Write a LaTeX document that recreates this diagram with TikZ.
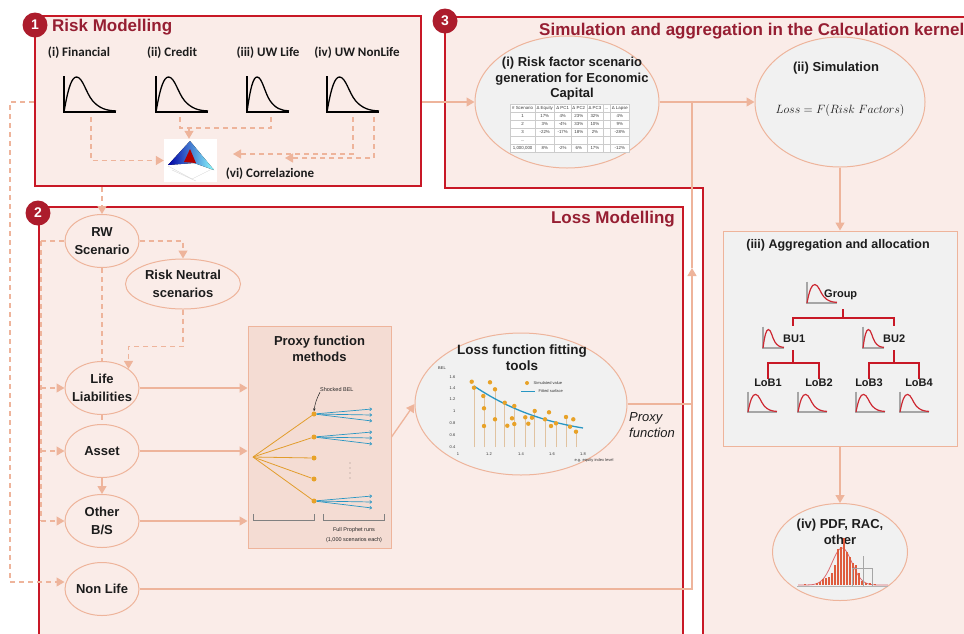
\documentclass[tikz,border=0pt]{standalone}
\usepackage{fontspec}
\usepackage{colortbl}
\setmainfont{Liberation Sans}
\newfontfamily\calib{Carlito}
\usetikzlibrary{arrows.meta,shapes,positioning}
\definecolor{boxred}{RGB}{200,24,38}
\definecolor{badgered}{RGB}{172,28,44}
\definecolor{titlered}{RGB}{150,30,50}
\definecolor{salmon}{RGB}{238,180,155}
\definecolor{pinkfill}{RGB}{250,236,232}
\definecolor{proxyfill}{RGB}{244,220,211}
\definecolor{grayfill}{RGB}{241,241,241}
\definecolor{txtgray}{RGB}{28,28,28}
\definecolor{dotorange}{RGB}{232,162,40}
\definecolor{stemtan}{RGB}{225,195,160}
\definecolor{bluefit}{RGB}{40,150,195}
\definecolor{curvered}{RGB}{205,40,50}
\definecolor{barred}{RGB}{222,92,62}
\newcommand{\lw}{1.3pt}
\newcommand{\redw}{2.8pt}

\tikzset{
	ell/.style={ellipse, draw=salmon, line width=1pt, fill=pinkfill, minimum width=74pt, minimum height=53pt, inner xsep=-8pt, inner ysep=-4pt, align=center, text=txtgray, font=\bfseries\fontsize{13}{17.5}\selectfont},
	grayell/.style={ellipse, draw=salmon, line width=1pt, fill=grayfill, inner sep=0pt},
	panel/.style={draw=salmon, line width=1pt, inner sep=0pt},
	redbox/.style={draw=boxred, line width=\redw, fill=pinkfill},
	flow/.style={draw=salmon, line width=\lw, -{Triangle[width=9pt,length=8pt]}},
	dflow/.style={flow, dash pattern=on 5pt off 4pt},
	dline/.style={draw=salmon, line width=\lw, dash pattern=on 5pt off 4pt},
	sline/.style={draw=salmon, line width=\lw},
	badge/.style={circle, fill=badgered, text=white, minimum size=25pt, inner sep=0pt, font=\bfseries\fontsize{14}{14}\selectfont},
	boxtitle/.style={text=titlered, inner sep=0pt, font=\bfseries\fontsize{17}{19}\selectfont},
	risklabel/.style={text=txtgray, inner sep=0pt, font=\calib\bfseries\fontsize{13}{15}\selectfont},
	eltext/.style={text=txtgray, inner sep=0pt, align=center, font=\bfseries\fontsize{13}{15.5}\selectfont},
	treelbl/.style={text=txtgray, inner sep=0pt, font=\bfseries\fontsize{11}{13}\selectfont},
	treeline/.style={draw=boxred, line width=1.3pt},
	ticklbl/.style={text=gray!40!black, inner sep=0.5pt, font=\fontsize{4}{5}\selectfont},
	smalllbl/.style={text=gray!30!black, inner sep=0pt, align=center, font=\fontsize{5.5}{10}\selectfont},
	pdot/.style={circle, fill=dotorange, inner sep=0pt, minimum size=5pt},
	orangeline/.style={draw=dotorange!85!brown, line width=0.8pt},
	bluearrow/.style={draw=bluefit, line width=0.7pt, -{To[length=2.5pt,width=3.5pt]}},
	riskpdf/.pic={
		\draw[line width=1.5pt, black] (0,-1.02) -- (0,0) -- (1,0);
		\draw[line width=1.3pt, black] (0,0) .. controls (0.08,-0.7) and (0.15,-1) .. (0.24,-1) .. controls (0.36,-1) and (0.42,-0.55) .. (0.55,-0.32) .. controls (0.68,-0.1) and (0.82,-0.04) .. (1,-0.03);
	},
	aggpdf/.pic={
		\draw[line width=1.1pt, gray!70] (0,-1.02) -- (0,0) -- (1,0);
		\draw[line width=1.2pt, curvered] (0,0) .. controls (0.08,-0.6) and (0.15,-0.88) .. (0.26,-0.88) .. controls (0.38,-0.88) and (0.44,-0.5) .. (0.56,-0.3) .. controls (0.68,-0.1) and (0.82,-0.04) .. (1,-0.03);
	}
}

\begin{document}
\begin{tikzpicture}[x=1pt,y=-1pt]
	\useasboundingbox (0,0) rectangle (964,633);
	%\draw[help lines,step=50] (0,0) grid (964,633);

	% the three panels
	\path[redbox] (445,17) -- (985,17) -- (985,650) -- (703,650) -- (703,188) -- (445,188) -- cycle;
	\path[redbox] (39,207) rectangle (683,650);
	\node[redbox, minimum width=386pt, minimum height=170pt, inner sep=0pt] (riskbox) at (228,101) {};
	\node[boxtitle, anchor=west] (risktitle) at (52,27) {Risk Modelling};
	\node[boxtitle, anchor=east] (losstitle) at (675,219) {Loss Modelling};
	\node[boxtitle, anchor=west] (simtitle) at (539,31) {Simulation and aggregation in the Calculation kernel};

	% 1: risk modelling
	\node[risklabel] (fin) at (79,53) {(i) Financial};
	\node[risklabel] (cred) at (172,53) {(ii) Credit};
	\node[risklabel] (uwl) at (268,53) {(iii) UW Life};
	\node[risklabel] (uwnl) at (357,53) {(iv) UW NonLife};
	\pic[xscale=52,yscale=35] at (64,112) {riskpdf};
	\pic[xscale=52,yscale=35] at (156,112) {riskpdf};
	\pic[xscale=42,yscale=35] at (247,112) {riskpdf};
	\pic[xscale=52,yscale=35] at (327,112) {riskpdf};
	\node[fill=white, minimum width=53pt, minimum height=43pt, inner sep=0pt] (corr) at (190.5,160.5) {};
	\draw[gray!30, line width=0.4pt] (168,166) -- (192,179) -- (214,168);
	\draw[gray!30, line width=0.4pt] (172,170) -- (196,181);
	\fill[left color=blue!65!black, right color=cyan!45] (168,165) -- (190,141) -- (214,170) -- (194,163) -- cycle;
	\fill[red!70!black] (184,162) -- (190,149) -- (196,163) -- cycle;
	\node[risklabel] (corrlbl) at (270,174) {(vi) Correlazione};
	\coordinate (finb) at (91,117);
	\coordinate (credb) at (180,117);
	\coordinate (uwlb) at (271,117);
	\coordinate (nla) at (353,117);
	\coordinate (nlb) at (374,117);
	\coordinate (cj) at (189,128);
	\coordinate (nltip) at (233,154);
	\coordinate (nltip2) at (285,158);
	\draw[dflow] (finb) |- (corr.west);
	\draw[dline] (credb) -- ++(0,11) -| (uwlb);
	\draw[dflow] (cj) -- (cj |- corr.north);
	\draw[dflow] (nla) |- (nltip);
	\draw[dflow] (nlb) |- (nltip2);

	% 2: loss modelling
	\node[ell] (rw) at (102,241) {RW\\Scenario};
	\node[ell, minimum width=115pt, minimum height=50pt] (rn) at (183,284) {Risk Neutral\\scenarios};
	\node[ell] (life) at (102,388) {Life\\Liabilities};
	\node[ell] (asset) at (102,451) {Asset};
	\node[ell] (other) at (102,521) {Other\\B/S};
	\node[ell] (nonlife) at (102,589) {Non Life};
	\coordinate (oleft) at (10,102);
	\coordinate (ileft) at (41,241);
	\draw[dflow] (riskbox.west |- oleft) -- (oleft) |- ([yshift=7pt]nonlife.west);
	\draw[dline] (ileft) -- (rw.west);
	\draw[dline] (ileft) -- (ileft |- other.west);
	\draw[dflow] (ileft |- life.west) -- (life.west);
	\draw[dflow] (ileft |- asset.west) -- (asset.west);
	\draw[dflow] (ileft |- other.west) -- (other.west);
	\draw[dflow] (riskbox.south -| rw.north) -- (rw.north);
	\draw[dflow] (rw.east) -| (rn.north);
	\draw[dflow] (rn.south) -- ++(0,37) -| (life.north east);
	\draw[dline] (rw.south) -- (life.north);
	\draw[dline] (life.south) -- (asset.north);
	\draw[flow] (asset.south) -- (other.north);

	\node[panel, fill=proxyfill, minimum width=143pt, minimum height=222pt] (proxy) at (319.5,437) {};
	\node[eltext] (proxytitle) at (319.5,349) {Proxy function\\methods};
	\draw[flow] (life.east) -- (life.east -| proxy.west);
	\draw[flow] (asset.east) -- (asset.east -| proxy.west);
	\draw[flow] (other.east) -- (other.east -| proxy.west);
	\coordinate (root) at (253,457);
	\foreach \n/\yy in {1/414,2/437,3/458,4/479,5/501}
		\node[pdot] (d\n) at (314,\yy) {};
	\foreach \n in {1,...,5}
		\draw[orangeline] (root) -- (d\n);
	\foreach \n in {1,2,5}
		\foreach \dy in {-5,1,7}
			\draw[bluearrow] (d\n) -- ++(58,\dy);
	\node[smalllbl, anchor=west] (bel) at (320,390) {Shocked BEL};
	\draw[gray!30!black, line width=0.5pt, -{Stealth[length=3pt,width=2.5pt]}] (bel.south west) to[bend right=10] (d1.north);
	\foreach \yy in {463,468,473,478}
		\fill[black] (350,\yy) circle (0.45pt);
	\draw[gray, line width=0.8pt] (253,514) -- (253,520) -- (314,520) -- (314,514);
	\draw[gray, line width=0.8pt] (323,514) -- (323,520) -- (384,520) -- (384,514);
	\node[smalllbl] (runs) at (354,535) {Full Prophet runs\\(1,000 scenarios each)};

	\node[grayell, minimum width=212pt, minimum height=142pt] (loss) at (521,404) {};
	\node[eltext, font=\bfseries\fontsize{13.5}{16}\selectfont] (losslbl) at (522,358) {Loss function fitting\\tools};
	\draw[flow] (proxy.east) -- (loss.west);
	\node[ticklbl] (bellbl) at (442,368) {BEL};
	\foreach \yv/\yy in {1.6/377,1.4/388,1.2/399,1/411,0.8/423,0.6/435,0.4/447}
		\node[ticklbl, anchor=east] at (456,\yy) {\yv};
	\foreach \xv/\xx in {1/458,1.2/489,1.4/521,1.6/552,1.8/583}
		\node[ticklbl] at (\xx,454) {\xv};
	\node[ticklbl] (xlbl) at (594,460) {e.g. equity index level};
	\foreach \sx/\sy in {474/387.7,484/396,495/389.3,504.7/402.7,514.3/406,525.3/417.3,534.7/411,545/419.3,556/423.3,566/417,576/431.7}
		\draw[stemtan, line width=0.9pt] (\sx,447) -- (\sx,\sy);
	\draw[bluefit, line width=1.3pt] (474,386) .. controls (505,407) and (540,421) .. (583,428);
	\foreach \px/\py in {471.7/381.7,474/387.7,483.3/396,484/408.3,484/426,490/382.3,495/389.3,495/419.3,504.7/402.7,507.3/425.7,512/418.3,514.3/406,514.3/424,525.3/417.3,528.3/423.7,532/417.7,534.7/411,545/419.3,549/412.3,551/426,556/423.3,566/417,570/426.7,573.3/419.3,576/431.7}
		\fill[dotorange] (\px,\py) circle (2.2pt);
	\fill[dotorange] (527,383) circle (2pt);
	\node[ticklbl, anchor=west] (simval) at (533,383) {Simulated value};
	\draw[bluefit, line width=1pt] (521,391) -- (535,391);
	\node[ticklbl, anchor=west] (fitsurf) at (538,391) {Fitted surface};
	\node[text=txtgray, align=left, inner sep=0pt, font=\itshape\fontsize{13}{16}\selectfont] (pxlbl) at (652,425) {Proxy\\function};

	% 3: simulation and aggregation
	\node[grayell, minimum width=184pt, minimum height=132pt] (scen) at (567,102) {};
	\node[eltext] (scenlbl) at (572,79) {(i) Risk factor scenario\\generation for Economic\\Capital};
	\node[fill=white, inner sep=0pt, text=gray!50!black, font=\fontsize{4.4}{7.6}\selectfont] (tab) at (570,128) {%
		\setlength{\tabcolsep}{1.5pt}\arrayrulecolor{gray!40}%
		\begin{tabular}{|c|c|c|c|c|c|c|}\hline
		\# Scenario & Δ Equity & Δ PC1 & Δ PC2 & Δ PC3 & ... & Δ Lapse\\\hline
		1 & 17\% & 4\% & 23\% & 32\% & & 4\%\\\hline
		2 & 3\% & -4\% & 33\% & 10\% & & 9\%\\\hline
		3 & -22\% & -17\% & 18\% & 2\% & & -28\%\\\hline
		... & & & & & & \\\hline
		1,000,000 & 8\% & -2\% & 6\% & 17\% & & -12\%\\\hline
		\end{tabular}};
	\node[grayell, minimum width=170pt, minimum height=130pt] (sim) at (840,102) {};
	\node[eltext] (simlbl) at (836,68) {(ii) Simulation};
	\node[text=txtgray, inner sep=0pt, font=\fontsize{12}{14}\selectfont] (simf) at (840,110) {$Loss = F(Risk\ Factors)$};
	\node[panel, fill=grayfill, minimum width=234pt, minimum height=215pt] (agg) at (840,338.5) {};
	\node[eltext, font=\bfseries\fontsize{12.5}{15}\selectfont] (agglbl) at (838,245) {(iii) Aggregation and allocation};
	\node[grayell, minimum width=135pt, minimum height=97pt] (pdf) at (840,552) {};
	\node[eltext] (pdflbl) at (840,532) {(iv) PDF, RAC,\\other};

	\coordinate (uparrow) at (692,268);
	\draw[flow] (riskbox.east |- scen.west) -- (scen.west);
	\draw[flow] (scen.east) -- (sim.west);
	\draw[flow] (nonlife.east) -| (uparrow);
	\draw[sline] (uparrow) -- (uparrow |- scen.east);
	\draw[sline] (loss.east) -- (loss.east -| uparrow);
	\draw[flow] (sim.south) -- (sim.south |- agg.north);
	\draw[flow] (agg.south) -- (pdf.north);

	% aggregation tree
	\node[treelbl, anchor=west] (grp) at (824,295) {Group};
	\node[treelbl, anchor=west] (bu1) at (783,339) {BU1};
	\node[treelbl, anchor=west] (bu2) at (883,339) {BU2};
	\node[treelbl] (lob1) at (768,383) {LoB1};
	\node[treelbl] (lob2) at (819,383) {LoB2};
	\node[treelbl] (lob3) at (869,383) {LoB3};
	\node[treelbl] (lob4) at (919,383) {LoB4};
	\pic[xscale=30,yscale=21] at (807,303) {aggpdf};
	\pic[xscale=21,yscale=21] at (763,348) {aggpdf};
	\pic[xscale=21,yscale=21] at (863,348) {aggpdf};
	\pic[xscale=29,yscale=20] at (748,412) {aggpdf};
	\pic[xscale=29,yscale=20] at (798,412) {aggpdf};
	\pic[xscale=29,yscale=20] at (856,412) {aggpdf};
	\pic[xscale=29,yscale=20] at (900,412) {aggpdf};
	\coordinate (gtop) at (843,309);
	\coordinate (bu1top) at (793,326);
	\coordinate (bu2top) at (894,326);
	\coordinate (bu1bot) at (793,350);
	\coordinate (bu2bot) at (894,350);
	\draw[treeline] (gtop) -- ++(0,9) -| (bu1top);
	\draw[treeline] (gtop) -- ++(0,9) -| (bu2top);
	\draw[treeline] (bu1bot) -- ++(0,13) -| (lob1.north);
	\draw[treeline] (bu1bot) -- ++(0,13) -| (lob2.north);
	\draw[treeline] (bu2bot) -- ++(0,13) -| (lob3.north);
	\draw[treeline] (bu2bot) -- ++(0,13) -| (lob4.north);

	% histogram
	\draw[curvered!70, line width=0.8pt] plot[domain=798:888, samples=60] (\x, {585-37*exp(-((\x-842)/14)*((\x-842)/14))});
	\foreach \bx/\bh in {805/1.5,817/2.5,820/3,823/6,826/7,829/8,832/12,835/20,838/36,841/38,844/47,847/33,850/28,853/22,856/20,859/12,862/4,866/2,870/2,875/1}
		\fill[barred] (\bx-0.9,585) rectangle (\bx+0.9,585-\bh);
	\draw[gray!70, line width=0.6pt] (852,586) rectangle (872,568);
	\draw[gray!70, line width=0.6pt] (863,586) -- (863,556);
	\draw[gray!60, line width=0.6pt] (797,586) -- (888,586);

	\node[badge] (b1) at (35,25) {1};
	\node[badge] (b2) at (38,213) {2};
	\node[badge] (b3) at (445,21) {3};
\end{tikzpicture}
\end{document}
